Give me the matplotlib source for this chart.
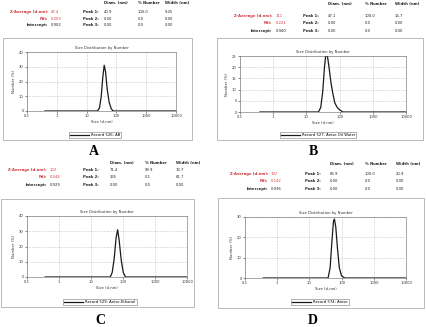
import matplotlib
matplotlib.use("Agg")
import matplotlib.pyplot as plt
from matplotlib.patches import Rectangle

W, H = 426, 327

# size distribution curves (size in d.nm, number %)
size_a = [0.4, 23, 27, 31, 35, 39, 43, 49, 57, 67, 78, 10000]
num_a = [0, 0, 2, 10, 23, 31, 27, 15, 6, 1.5, 0, 0]

size_b = [0.4, 23, 27, 31, 35, 38, 43, 48, 55, 63, 72, 85, 100, 125, 10000]
num_b = [0, 0, 2, 9, 20, 25, 25, 20, 13, 8, 4, 2, 1, 0, 0]

size_c = [0.37, 40, 46, 53, 61, 68, 76, 88, 102, 120, 10000]
num_c = [0, 0, 3, 12, 26, 31, 24, 11, 3, 0, 0]

size_d = [0.37, 38, 44, 50, 56, 60, 66, 74, 85, 100, 125, 10000]
num_d = [0, 0, 5, 18, 28, 29, 25, 15, 5, 1, 0, 0]

x_ticks = [0.1, 1, 10, 100, 1000, 10000]
x_labels = ["0.1", "1", "10", "100", "1000", "10000"]

legends = ["Record 526: AB", "Record 527: Anise Oil Water",
           "Record 529: Anise-Ethanol", "Record 574: Anise"]
zavg = ["47.4", "111", "102", "137"]
pdi = ["0.203", "0.221", "0.244", "0.142"]
intercept = ["0.902", "0.940", "0.929", "0.936"]
peaks = [
    [["40.9", "100.0", "9.25"], ["0.00", "0.0", "0.00"], ["0.00", "0.0", "0.00"]],
    [["47.1", "100.0", "16.7"], ["0.00", "0.0", "0.00"], ["0.00", "0.0", "0.00"]],
    [["71.4", "99.9", "13.7"], ["265", "0.1", "61.7"], ["0.00", "0.0", "0.00"]],
    [["66.9", "100.0", "20.9"], ["0.00", "0.0", "0.00"], ["0.00", "0.0", "0.00"]],
]
letters = ["A", "B", "C", "D"]

# layout in pixels
panels = [
    dict(x=size_a, y=num_a, ymax=40, ystep=10, ax=(27, 52, 176, 111), box=(3, 38, 192, 140),
         leg=(95, 135), letter=(94, 151),
         lab=48, val=51, pk=83, cols=(104, 138, 165), rows=(3, 12, 19, 25)),
    dict(x=size_b, y=num_b, ymax=25, ystep=5, ax=(240, 56, 406, 112), box=(217, 38, 423, 140),
         leg=(318, 135), letter=(313, 151),
         lab=272, val=276, pk=303, cols=(328, 365, 395), rows=(4, 16, 23, 31)),
    dict(x=size_c, y=num_c, ymax=40, ystep=10, ax=(27, 216, 187, 277), box=(1, 199, 194, 307),
         leg=(100, 302), letter=(100, 321),
         lab=47, val=50, pk=83, cols=(110, 145, 176), rows=(163, 170, 177, 185)),
    dict(x=size_d, y=num_d, ymax=30, ystep=10, ax=(245, 217, 406, 278), box=(218, 198, 424, 308),
         leg=(320, 302), letter=(313, 321),
         lab=268, val=271, pk=305, cols=(330, 365, 396), rows=(164, 174, 181, 189)),
]

fig = plt.figure(figsize=(W / 100, H / 100), dpi=100)
fig.patch.set_facecolor("white")


def fx(px):
    return px / W


def fy(py):
    return 1 - py / H


fs = 2.7
red = "#d0383c"

for i, p in enumerate(panels):
    # panel frame
    x0, y0, x1, y1 = p["box"]
    fig.patches.append(Rectangle((fx(x0), fy(y1)), fx(x1 - x0), (y1 - y0) / H,
                                 transform=fig.transFigure, fill=False,
                                 edgecolor="#b0b0b0", linewidth=0.6))

    # table above the chart
    r = p["rows"]
    fig.text(fx(p["lab"]), fy(r[1]), "Z-Average (d.nm):", color=red, fontsize=fs,
             ha="right", va="center", fontweight="bold")
    fig.text(fx(p["val"]), fy(r[1]), zavg[i], color=red, fontsize=fs, va="center")
    fig.text(fx(p["lab"]), fy(r[2]), "Pdi:", color=red, fontsize=fs,
             ha="right", va="center", fontweight="bold")
    fig.text(fx(p["val"]), fy(r[2]), pdi[i], color=red, fontsize=fs, va="center")
    fig.text(fx(p["lab"]), fy(r[3]), "Intercept:", color="#222222", fontsize=fs,
             ha="right", va="center", fontweight="bold")
    fig.text(fx(p["val"]), fy(r[3]), intercept[i], color="#222222", fontsize=fs, va="center")
    for cx, head in zip(p["cols"], ["Diam. (nm)", "% Number", "Width (nm)"]):
        fig.text(fx(cx), fy(r[0]), head, fontsize=fs, va="center", fontweight="bold",
                 color="#222222")
    for k in range(3):
        fig.text(fx(p["pk"]), fy(r[k + 1]), "Peak %d:" % (k + 1), fontsize=fs,
                 va="center", fontweight="bold", color="#222222")
        for cx, v in zip(p["cols"], peaks[i][k]):
            fig.text(fx(cx), fy(r[k + 1]), v, fontsize=fs, va="center", color="#222222")

    # chart
    a0, b0, a1, b1 = p["ax"]
    ax = fig.add_axes([fx(a0), fy(b1), fx(a1 - a0), (b1 - b0) / H])
    ax.plot(p["x"], p["y"], color="#1a1a1a", linewidth=0.9)
    ax.set_xscale("log")
    ax.set_xlim(0.1, 10000)
    ax.set_ylim(0, p["ymax"])
    ax.set_xticks(x_ticks)
    ax.set_xticklabels(x_labels)
    ax.minorticks_off()
    ax.set_yticks(range(0, p["ymax"] + 1, p["ystep"]))
    ax.tick_params(labelsize=fs, length=1.2, width=0.4, pad=1.2, colors="#333333")
    ax.grid(True, linestyle=":", linewidth=0.4, color="#9a9a9a")
    for s in ax.spines.values():
        s.set_linewidth(0.4)
        s.set_color("#666666")
    ax.set_title("Size Distribution by Number", fontsize=fs, pad=2.5, color="#333333")
    ax.set_xlabel("Size (d.nm)", fontsize=fs, labelpad=1, color="#333333")
    ax.set_ylabel("Number (%)", fontsize=fs, labelpad=2, color="#333333")

    # legend
    lx, ly = p["leg"]
    leg = fig.legend([ax.lines[0]], [legends[i]], loc="center",
                     bbox_to_anchor=(fx(lx), fy(ly)), fontsize=fs, frameon=True,
                     fancybox=False, handlelength=5, borderpad=0.3, handletextpad=0.6)
    leg.get_frame().set_linewidth(0.4)
    leg.get_frame().set_edgecolor("#555555")

    # panel letter
    lx, ly = p["letter"]
    fig.text(fx(lx), fy(ly), letters[i], fontsize=10, fontweight="bold",
             family="Liberation Serif", ha="center", va="center")

fig.savefig("out.png", dpi=100, facecolor="white")
